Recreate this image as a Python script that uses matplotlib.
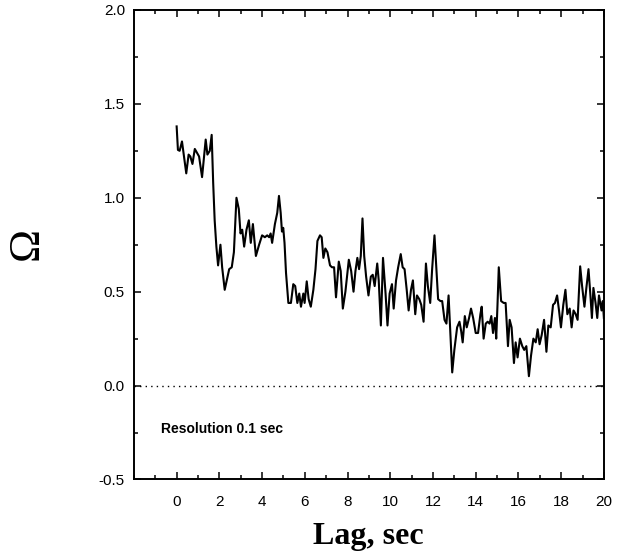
import matplotlib
matplotlib.use("Agg")
import matplotlib.pyplot as plt
from matplotlib.ticker import MultipleLocator

# lag (sec) and Omega values
lag = [0.0, 0.06, 0.14, 0.25, 0.45, 0.56, 0.64, 0.74, 0.85, 0.95, 1.05, 1.19,
       1.36, 1.44, 1.55, 1.64, 1.71, 1.78, 1.86, 1.94, 2.05, 2.13, 2.25, 2.46,
       2.58, 2.68, 2.80, 2.91, 2.99, 3.07, 3.16, 3.27, 3.38, 3.47, 3.57, 3.71,
       3.86, 4.0, 4.13, 4.24, 4.33, 4.40, 4.47, 4.60, 4.71, 4.79, 4.87, 4.93,
       4.99, 5.05, 5.12, 5.23, 5.35, 5.46, 5.55, 5.65, 5.74, 5.82, 5.93, 5.99,
       6.09, 6.18, 6.28, 6.40, 6.50, 6.59, 6.71, 6.79, 6.87, 6.96, 7.06, 7.18,
       7.27, 7.37, 7.46, 7.59, 7.68, 7.78, 7.90, 8.06, 8.17, 8.28, 8.37, 8.46,
       8.54, 8.62, 8.70, 8.78, 8.87, 8.98, 9.09, 9.18, 9.27, 9.39, 9.46, 9.56,
       9.66, 9.78, 9.87, 9.97, 10.08, 10.16, 10.27, 10.37, 10.49, 10.58, 10.67,
       10.77, 10.86, 10.97, 11.06, 11.17, 11.25, 11.36, 11.45, 11.56, 11.67,
       11.76, 11.87, 11.96, 12.07, 12.16, 12.24, 12.35, 12.43, 12.54, 12.63,
       12.73, 12.82, 12.90, 13.0, 13.13, 13.24, 13.32, 13.39, 13.49, 13.58,
       13.69, 13.78, 13.88, 14.0, 14.11, 14.22, 14.28, 14.37, 14.47, 14.56,
       14.65, 14.73, 14.81, 14.90, 14.96, 15.02, 15.08, 15.19, 15.31, 15.40,
       15.51, 15.59, 15.68, 15.79, 15.87, 15.96, 16.07, 16.18, 16.27, 16.37,
       16.49, 16.59, 16.70, 16.81, 16.90, 16.99, 17.09, 17.20, 17.31, 17.40,
       17.51, 17.62, 17.71, 17.81, 17.90, 17.99, 18.10, 18.20, 18.29, 18.40,
       18.49, 18.58, 18.68, 18.77, 18.89, 18.98, 19.09, 19.18, 19.28, 19.37,
       19.44, 19.51, 19.61, 19.69, 19.77, 19.89, 19.95, 20.0]
omega = [1.38, 1.255, 1.25, 1.30, 1.13, 1.23, 1.22, 1.18, 1.26, 1.24, 1.22, 1.11,
         1.31, 1.23, 1.25, 1.335, 1.08, 0.88, 0.74, 0.64, 0.75, 0.63, 0.51, 0.62,
         0.63, 0.71, 1.00, 0.94, 0.81, 0.83, 0.74, 0.83, 0.88, 0.76, 0.86, 0.69,
         0.75, 0.80, 0.79, 0.80, 0.79, 0.81, 0.76, 0.86, 0.92, 1.01, 0.92, 0.82,
         0.84, 0.76, 0.60, 0.44, 0.44, 0.54, 0.53, 0.44, 0.49, 0.42, 0.49, 0.44,
         0.555, 0.46, 0.42, 0.51, 0.62, 0.77, 0.80, 0.79, 0.68, 0.73, 0.71, 0.64,
         0.63, 0.63, 0.47, 0.66, 0.61, 0.41, 0.50, 0.67, 0.61, 0.50, 0.61, 0.68,
         0.62, 0.69, 0.89, 0.69, 0.58, 0.48, 0.58, 0.59, 0.53, 0.65, 0.56, 0.32,
         0.68, 0.49, 0.32, 0.49, 0.54, 0.41, 0.56, 0.63, 0.70, 0.63, 0.62,
         0.51, 0.40, 0.51, 0.56, 0.38, 0.48, 0.46, 0.43, 0.34, 0.65,
         0.53, 0.44, 0.62, 0.80, 0.62, 0.46, 0.45, 0.45, 0.35, 0.33,
         0.48, 0.26, 0.07, 0.19, 0.31, 0.34, 0.29, 0.23, 0.37, 0.31,
         0.36, 0.41, 0.36, 0.28, 0.28, 0.38, 0.42, 0.25, 0.33, 0.34,
         0.33, 0.37, 0.28, 0.36, 0.25, 0.43, 0.63, 0.45, 0.44, 0.44,
         0.21, 0.35, 0.31, 0.12, 0.23, 0.15, 0.25, 0.21, 0.19, 0.21,
         0.05, 0.16, 0.25, 0.23, 0.30, 0.22, 0.27, 0.35, 0.18, 0.32,
         0.31, 0.43, 0.44, 0.48, 0.40, 0.31, 0.43, 0.51, 0.38, 0.41,
         0.31, 0.40, 0.38, 0.35, 0.635, 0.53, 0.42, 0.52, 0.62, 0.48,
         0.36, 0.52, 0.44, 0.36, 0.48, 0.40, 0.45, 0.36]

fig = plt.figure(figsize=(6.2, 5.54), dpi=100)
ax = fig.add_axes([0.216, 0.1345, 0.758, 0.8475])

ax.plot(lag, omega, color='black', linewidth=1.5)
ax.axhline(0, color='black', linestyle=(0, (1, 3)), linewidth=1.0)

ax.set_xlim(-2, 20)
ax.set_ylim(-0.5, 2.0)
ax.set_xticks(range(0, 21, 2))
ax.set_yticks([-0.5, 0.0, 0.5, 1.0, 1.5, 2.0])
ax.set_yticklabels(['-0.5', '0.0', '0.5', '1.0', '1.5', '2.0'])
ax.xaxis.set_minor_locator(MultipleLocator(1))
ax.yaxis.set_minor_locator(MultipleLocator(0.25))
ax.tick_params(which='both', direction='in', top=True, right=True,
               labelsize=11, width=1.1)
ax.tick_params(which='major', length=5)
ax.tick_params(which='minor', length=3)
ax.tick_params(axis='x', pad=11)
ax.tick_params(axis='y', pad=6.5)
for lbl in ax.get_xticklabels() + ax.get_yticklabels():
    lbl.set_family('Liberation Sans')
for s in ax.spines.values():
    s.set_linewidth(1.4)

ax.text(-0.72, -0.23, 'Resolution 0.1 sec', fontsize=10, fontweight='bold',
        family='Liberation Sans', va='center', ha='left')

fig.text(0.5935, 0.018, 'Lag, sec', family='Liberation Serif', fontweight='bold',
         fontsize=23, ha='center', va='baseline')
fig.text(0.0435, 0.5596, '\u03a9', family='Liberation Serif', fontsize=32,
         rotation=90, ha='center', va='center')

plt.savefig('out.png')
